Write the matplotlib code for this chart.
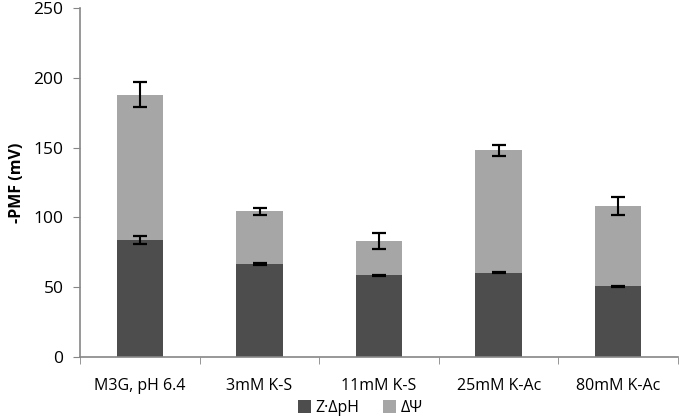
import numpy as np
import matplotlib.pyplot as plt

plt.rcParams['font.family'] = ['Open Sans', 'DejaVu Sans']

# data
categories = ['M3G, pH 6.4', '3mM K-S', '11mM K-S', '25mM K-Ac', '80mM K-Ac']
dph = [84, 66.5, 58.5, 60.5, 50.5]
dpsi = [104, 38, 24.5, 87.5, 57.5]
dph_err = [3, 0.5, 0.5, 0.5, 0.5]
total_err = [9, 2.5, 5.5, 4, 6.5]

x = np.arange(len(categories))
total = np.array(dph) + np.array(dpsi)

fig = plt.figure(figsize=(6.8, 4.2), dpi=100)
ax = fig.add_axes([0.118, 0.15, 0.879, 0.831])

w = 0.39
ax.bar(x, dph, w, color='#4d4d4d', label='Z\u00b7\u0394pH')
ax.bar(x, dpsi, w, bottom=dph, color='#a6a6a6', label='\u0394\u03a8')
ax.errorbar(x, dph, yerr=dph_err, fmt='none', ecolor='black', elinewidth=1.5, capsize=4.7, capthick=1.6)
ax.errorbar(x, total, yerr=total_err, fmt='none', ecolor='black', elinewidth=1.5, capsize=4.7, capthick=1.6)

ax.set_ylim(0, 250)
ax.set_yticks(np.arange(0, 251, 50))
ax.set_xlim(-0.5, len(categories) - 0.5)
ax.set_xticks(x)
ax.set_xticklabels(categories)
ax.set_xticks(np.arange(-0.5, len(categories)), minor=True)
ax.tick_params(axis='x', which='major', length=0, pad=15, labelsize=11.5)
ax.tick_params(axis='x', which='minor', length=5, color='#868686')
ax.tick_params(axis='y', length=5, color='#868686', labelsize=12.5, pad=7)

for s in ['top', 'right']:
    ax.spines[s].set_visible(False)
for s in ['left', 'bottom']:
    ax.spines[s].set_color('#868686')
    ax.spines[s].set_linewidth(1.2)

ax.set_ylabel('-PMF (mV)', fontweight='bold', fontsize=11.5, labelpad=6)

fig.legend(loc='lower center', bbox_to_anchor=(0.53, -0.025), ncol=2, frameon=False,
           fontsize=11.5, handlelength=0.8, handleheight=0.8, handletextpad=0.3, columnspacing=1.5)

plt.savefig('out.png', dpi=100)
